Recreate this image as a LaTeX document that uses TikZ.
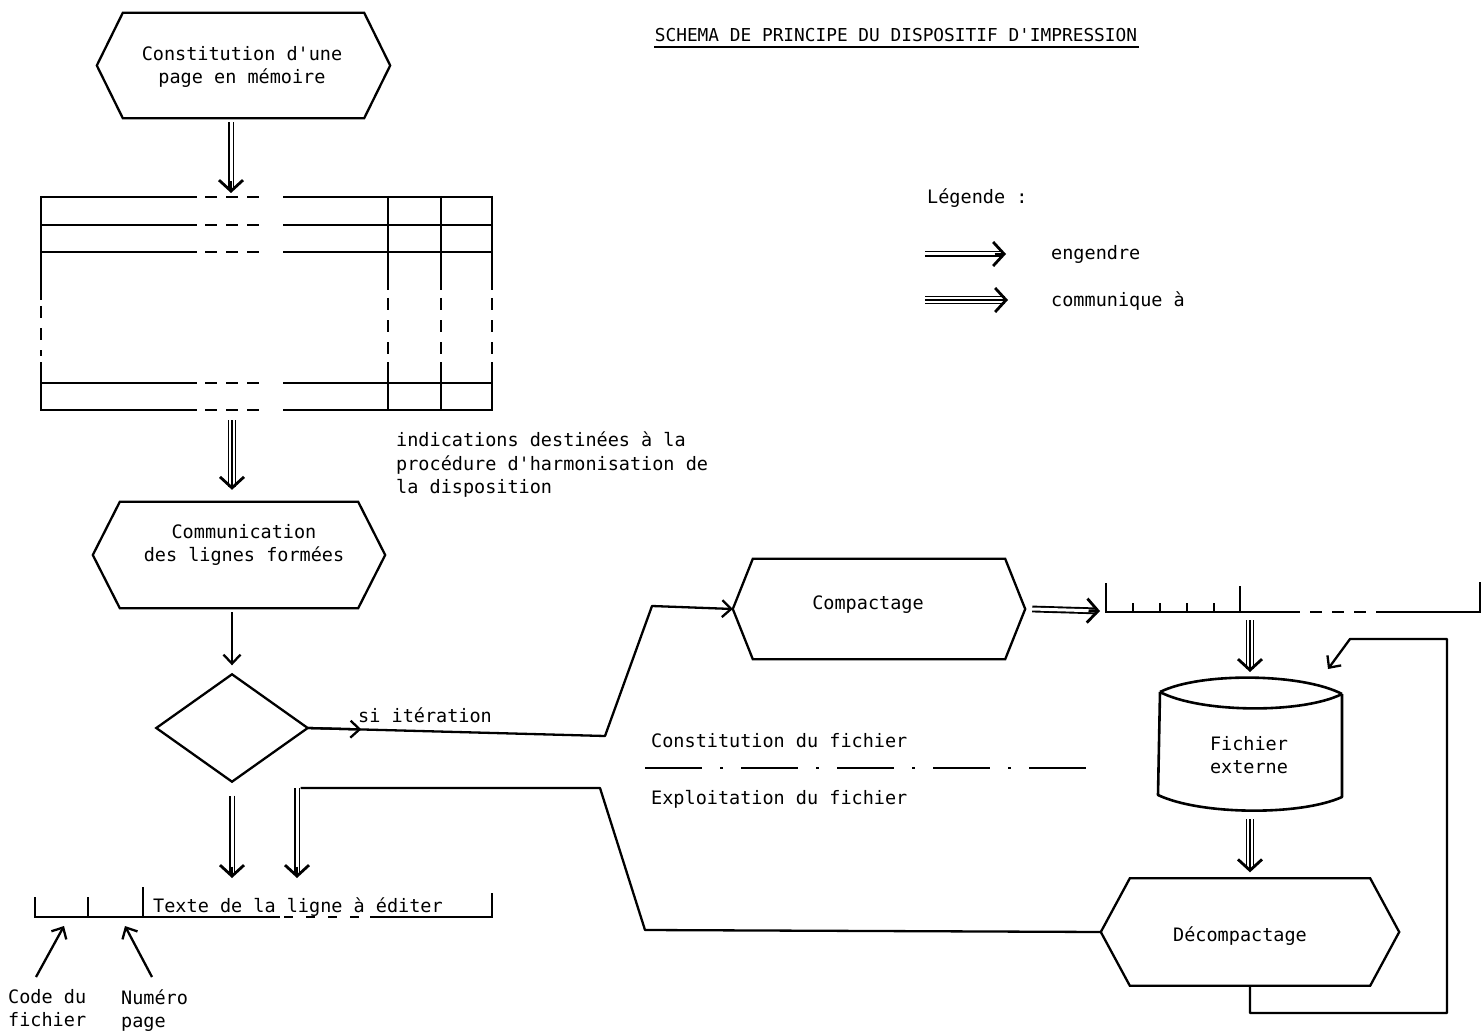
\documentclass[tikz,border=0pt]{standalone}
\usepackage{fontspec}
\setmainfont{DejaVu Sans Mono}[Ligatures=TeXOff]
\usetikzlibrary{arrows.meta,calc}
\tikzset{
 txt/.style={inner sep=0pt, font=\fontsize{18.5}{23}\selectfont, align=center},
 ltxt/.style={inner sep=0pt, font=\fontsize{18.5}{23.5}\selectfont, align=left},
 tfont/.style={inner sep=0pt, font=\fontsize{17.8}{22}\selectfont},
 box/.style={inner sep=0pt, draw=none},
 hexline/.style={line width=2.3pt, line join=miter},
 rule/.style={line width=2.6pt},
 cylline/.style={line width=2.6pt, line join=round},
 dshaft/.style={line width=1.9pt, double distance=3pt},
 tshaft/.style={line width=1.7pt, double distance=5.4pt},
 vtip/.style={line width=2.8pt, -{Straight Barb[length=11pt,width=24pt]}},
 stip/.style={-{Straight Barb[length=9pt,width=17pt]}},
 conn/.style={line width=2.3pt, line join=round},
}
\newcommand\dblarr[2]{\draw[dshaft,shorten >=3pt] #1 -- #2; \draw[vtip] ($#2!11.5pt!#1$) -- #2;}
\newcommand\triarr[2]{\draw[tshaft,shorten >=3pt] #1 -- #2; \draw[line width=1.7pt,shorten >=3pt] #1 -- #2; \draw[vtip] ($#2!11.5pt!#1$) -- #2;}
\newcommand\hexpath[2]{\draw[hexline] (#1.west) -- ([xshift=#2]#1.north west) -- ([xshift=-#2]#1.north east) -- (#1.east) -- ([xshift=-#2]#1.south east) -- ([xshift=#2]#1.south west) -- cycle;}
\begin{document}
\begin{tikzpicture}[x=1pt,y=-1pt]
\fill[white] (0,0) rectangle (1483,1032);
\useasboundingbox (0,0) rectangle (1483,1032);

% title
\node[tfont, anchor=base] (title) at (896,42) {SCHEMA DE PRINCIPE DU DISPOSITIF D'IMPRESSION};
\draw[line width=1.5pt] (654,47) -- (1139,47);

% legend
\node[ltxt, anchor=base west] (leg) at (927,204) {Légende :};
\coordinate (l1a) at (925,254); \coordinate (l1b) at (1006,254);
\coordinate (l2a) at (925,300); \coordinate (l2b) at (1008,300);
\dblarr{(l1a)}{(l1b)}
\triarr{(l2a)}{(l2b)}
\node[ltxt, anchor=base west] (leg1) at (1051,260) {engendre};
\node[ltxt, anchor=base west] (leg2) at (1051,306) {communique à};

% hexagon 1
\node[box, minimum width=293pt, minimum height=105pt] (h1) at (243.5,65.5) {};
\hexpath{h1}{26pt}
\node[txt] (h1t) at (242,67) {Constitution d'une\\page en mémoire};

% table
\foreach \y in {197,225,252,383,410} {
 \draw[rule] (41,\y) -- (197,\y);
 \draw[rule, dash pattern=on 12pt off 9pt] (205,\y) -- (265,\y);
 \draw[rule] (283,\y) -- (492,\y);
}
\draw[rule] (41,196) -- (41,300);
\draw[rule, dash pattern=on 12pt off 10pt] (41,306) -- (41,356);
\draw[rule] (41,362) -- (41,411);
\foreach \x in {388,441,492} {
 \draw[rule] (\x,196) -- (\x,290);
 \draw[rule, dash pattern=on 12pt off 10pt] (\x,298) -- (\x,356);
 \draw[rule] (\x,362) -- (\x,411);
}
\coordinate (tabtop) at (231,193);
\coordinate (tabbot) at (232,412);
\path (tabtop |- h1.south) coordinate (h1b);
\dblarr{([yshift=-4pt]h1b)}{(tabtop)}

\node[ltxt, anchor=north west] (ind) at (396,432) {indications destinées à la\\procédure d'harmonisation de\\la disposition};

% hexagon 2
\node[box, minimum width=292pt, minimum height=106pt] (h2) at (239,555) {};
\hexpath{h2}{27pt}
\node[txt] (h2t) at (244,545) {Communication\\des lignes formées};
\path (tabbot |- h2.north) coordinate (h2top);
\triarr{([yshift=-8pt]tabbot)}{([yshift=12pt]h2top)}

% diamond
\node[box, minimum width=151pt, minimum height=107pt] (dia) at (232,728) {};
\draw[hexline] (dia.north) -- (dia.east) -- (dia.south) -- (dia.west) -- cycle;
\path (dia.north |- h2.south) coordinate (h2bot);
\draw[conn, stip] ([yshift=-4pt]h2bot) -- ([yshift=9pt]dia.north);

% si iteration -> compactage
\node[box, minimum width=292pt, minimum height=100pt] (comp) at (879,609) {};
\hexpath{comp}{20pt}
\node[txt] (compt) at (868,605) {Compactage};
\draw[conn, stip] (dia.east) -- (605,736) -- (652,606) -- (comp.west);
\draw[conn, stip] (dia.east) -- ($(dia.east)!0.18!(605,736)$);
\node[ltxt, anchor=base west] (si) at (358,722) {si itération};

% record 2 (compacted)
\draw[rule] (1106,583) -- (1106,612) -- (1300,612);
\draw[rule, dash pattern=on 12pt off 10pt] (1310,612) -- (1366,612);
\draw[rule] (1376,612) -- (1480,612) -- (1480,582);
\foreach \x in {1133,1160,1187,1214} { \draw[rule] (\x,612) -- (\x,603); }
\draw[rule] (1240,612) -- (1240,586);
\coordinate (recL) at (1100,611);
\dblarr{([xshift=7pt]comp.east)}{(recL)}

% cylinder
\node[box, minimum width=184pt, minimum height=104pt] (cyl) at (1250,744) {};
\draw[cylline] (1160,692) .. controls (1200,672) and (1302,673) .. (1342,694);
\draw[cylline] (1160,692) .. controls (1200,713) and (1302,714) .. (1342,694);
\draw[cylline] (1160,692) -- (1158,795) .. controls (1200,815) and (1300,816) .. (1342,797) -- (1342,694);
\node[txt] (cylt) at (1249,755) {Fichier\\externe};
\coordinate (rec2) at (1250,614);
\coordinate (cyltop) at (1250,672);
\coordinate (cylbot) at (1250,819);
\triarr{([yshift=-6pt]rec2)}{(cyltop)}

% decompactage
\node[box, minimum width=298pt, minimum height=107pt] (dec) at (1250,932) {};
\hexpath{dec}{29pt}
\node[txt] (dect) at (1240,936) {Décompactage};
\triarr{(cylbot)}{([yshift=6pt]dec.north)}
\draw[conn, stip] (dec.south) |- (1447,1013) -- (1447,639) -- (1350,639) -- (1328,669);

% separation
\node[ltxt, anchor=base west] (cst) at (651,747) {Constitution du fichier};
\draw[line width=2.4pt, dash pattern=on 57pt off 18pt on 3pt off 18pt] (645,768) -- (1103,768);
\node[ltxt, anchor=base west] (exp) at (651,804) {Exploitation du fichier};

% record 1 (line to print)
\draw[rule] (35,897) -- (35,917) -- (280,917);
\draw[rule, dash pattern=on 9pt off 13pt] (284,917) -- (366,917);
\draw[rule] (370,917) -- (492,917) -- (492,893);
\draw[rule] (88,897) -- (88,917);
\draw[rule] (143,887) -- (143,917);
\node[ltxt, anchor=base west] (txl) at (153,912) {Texte de la ligne à éditer};
\coordinate (recA) at (232,878);
\dblarr{([yshift=-14pt]dia.south)}{(recA)}
\coordinate (bend) at (297,788);
\coordinate (recB) at (297,878);
\draw[conn] (dec.west) -- (645,930) -- (600,788) -- ([xshift=3.5pt]bend);
\dblarr{(bend)}{(recB)}

% annotations
\node[ltxt, anchor=north west] (code) at (8,989) {Code du\\fichier};
\node[ltxt, anchor=north west] (num) at (121,989) {Numéro\\page};
\coordinate (t1) at (36,977); \coordinate (f1) at (64,926);
\coordinate (t2) at (152,977); \coordinate (f2) at (125,926);
\draw[conn, stip] (t1) -- (f1);
\draw[conn, stip] (t2) -- (f2);
\end{tikzpicture}
\end{document}
